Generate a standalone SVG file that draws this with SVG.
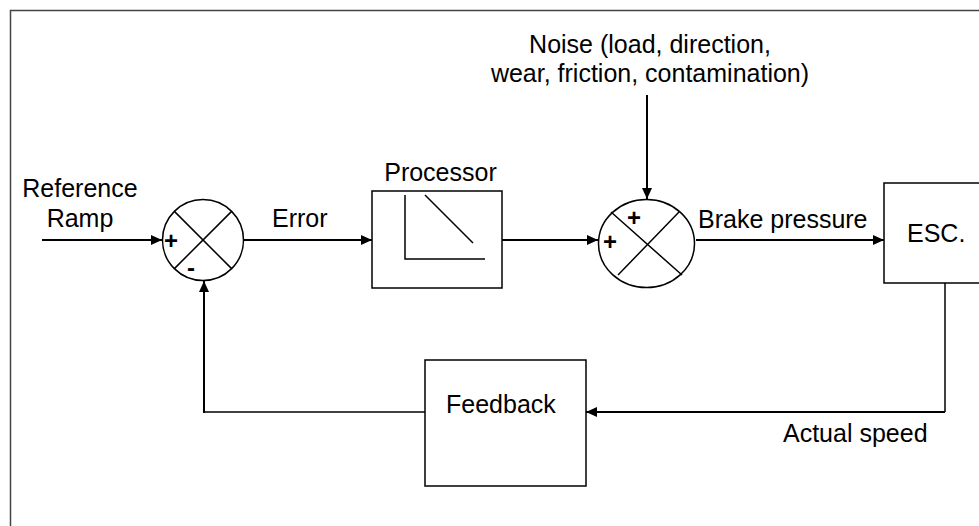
<svg xmlns="http://www.w3.org/2000/svg" width="979" height="526" viewBox="0 0 979 526">
<defs>
<style>
text{font-family:"Liberation Sans",Arial,sans-serif;font-size:25px;fill:#000}
.sign{font-size:24px;font-weight:bold;text-anchor:middle}
.box{fill:#fff;stroke:#000;stroke-width:1.5}
.thin{fill:none;stroke:#000;stroke-width:1.5}
.wire{fill:none;stroke:#000;stroke-width:2}
</style>
<marker id="ah" markerUnits="userSpaceOnUse" markerWidth="12" markerHeight="10" refX="11" refY="5" orient="auto">
<path d="M0,0 L11,5 L0,10 Z" fill="#000"/>
</marker>
</defs>
<rect x="0" y="0" width="979" height="526" fill="#fff"/>
<rect x="10.5" y="10.5" width="1000" height="600" fill="none" stroke="#444" stroke-width="1.5"/>

<g id="labels">
<text x="80" y="197" text-anchor="middle">Reference</text>
<text x="80" y="227" text-anchor="middle">Ramp</text>
<text x="272" y="227">Error</text>
<text x="650" y="53" text-anchor="middle">Noise (load, direction,</text>
<text x="650" y="82" text-anchor="middle">wear, friction, contamination)</text>
<text x="698" y="228">Brake pressure</text>
<text x="783" y="442">Actual speed</text>
</g>

<g id="connectors">
<path class="wire" d="M42,240 H162" marker-end="url(#ah)"/>
<path class="wire" d="M243,240 H372" marker-end="url(#ah)"/>
<path class="wire" d="M502,240 H598" marker-end="url(#ah)"/>
<path class="wire" d="M647,95 V199" marker-end="url(#ah)"/>
<path class="wire" d="M696,240 H884" marker-end="url(#ah)"/>
<path class="thin" d="M945,283 V412"/>
<path class="wire" d="M945,412 H586" marker-end="url(#ah)"/>
<path class="thin" d="M425,412 H204"/>
<path class="wire" d="M204,413 V281" marker-end="url(#ah)"/>
</g>

<g id="sum1">
<circle cx="203" cy="240" r="40.5" class="box"/>
<path class="thin" d="M174.4,211.4 L231.6,268.6 M231.6,211.4 L174.4,268.6"/>
<text class="sign" x="171" y="249">+</text>
<text class="sign" x="191" y="276">-</text>
</g>

<g id="processor">
<text x="440.5" y="181" text-anchor="middle">Processor</text>
<rect x="372" y="191" width="130" height="97" class="box"/>
<path class="thin" d="M405,195 V259 H485 M425,195 L473,243"/>
</g>

<g id="sum2">
<ellipse cx="646.5" cy="243.5" rx="48" ry="44" class="box"/>
<path class="thin" d="M611,212 L682,275 M679,212 L618,275"/>
<text class="sign" x="634" y="226">+</text>
<text class="sign" x="610" y="250">+</text>
</g>

<g id="esc">
<rect x="884" y="183" width="120" height="100" class="box"/>
<text x="907" y="242">ESC.</text>
</g>

<g id="feedback">
<rect x="425" y="360" width="161" height="126" class="box"/>
<text x="446" y="413">Feedback</text>
</g>
</svg>
